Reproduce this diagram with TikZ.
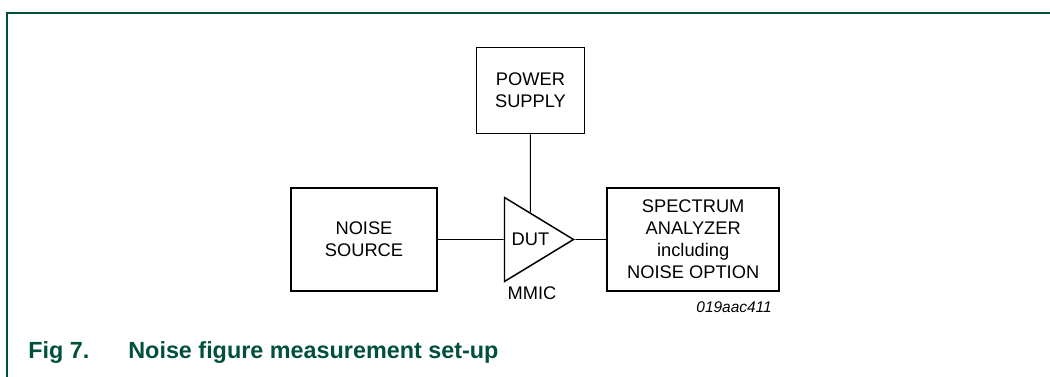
\documentclass[tikz,border=0pt]{standalone}
\usepackage{fontspec}
\setmainfont{Liberation Sans}
\usepackage{tikz}
\usetikzlibrary{shapes,positioning}
\definecolor{nxpgreen}{RGB}{0,80,60}
\tikzstyle{block} = [rectangle, draw=black, line width=0.85pt, align=center, font=\fontsize{10.4}{12.5}\selectfont]
\tikzstyle{amp} = [isosceles triangle, isosceles triangle stretches, draw=black, line width=0.85pt, minimum width=1.68cm, minimum height=1.38cm, inner sep=0pt, font=\fontsize{10.4}{12.5}\selectfont]
\tikzstyle{wire} = [line width=0.55pt]

\begin{document}
\begin{tikzpicture}[node distance=1.32cm]
\useasboundingbox (0,0) rectangle (21,7.54);
\draw [nxpgreen, line width=0.85pt] (0.14,0) -- (0.14,7.28) -- (21,7.28);
\node (noise) [block, minimum width=2.92cm, minimum height=2.06cm] at (7.28,2.75) {NOISE\\SOURCE};
\node (dut) [amp, right=1.32cm of noise] {DUT};
\node (spectrum) [block, right=0.62cm of dut, minimum width=3.44cm, minimum height=2.06cm] {SPECTRUM\\ANALYZER\\including\\NOISE OPTION};
\node (power) [block, above=1.56cm of dut, minimum width=2.16cm, minimum height=1.72cm] {POWER\\SUPPLY};
\node (mmic) [font=\fontsize{10.4}{12.5}\selectfont] at (10.64,1.68) {MMIC};
\node (code) [anchor=east, font=\fontsize{8.8}{10}\selectfont\itshape] at (15.56,1.40) {019aac411};
\draw [wire] (noise) -- (dut);
\draw [wire] (dut) -- (spectrum);
\draw [wire] (power) -- (dut);
\node (fig) [anchor=base west, inner sep=0pt, text=nxpgreen, font=\fontsize{13.3}{15}\selectfont\bfseries] at (0.56,0.36) {Fig 7.};
\node (title) [anchor=base west, inner sep=0pt, text=nxpgreen, font=\fontsize{13.3}{15}\selectfont\bfseries] at (2.56,0.36) {Noise figure measurement set-up};
\end{tikzpicture}
\end{document}
